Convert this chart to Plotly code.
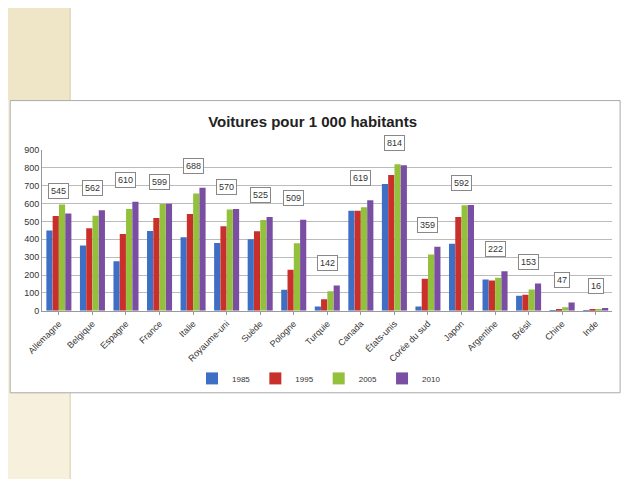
import plotly.graph_objects as go

# Données
pays = ["Allemagne", "Belgique", "Espagne", "France", "Italie", "Royaume-uni", "Suède",
        "Pologne", "Turquie", "Canada", "États-unis", "Corée du sud", "Japon",
        "Argentine", "Brésil", "Chine", "Inde"]
v1985 = [450, 365, 278, 447, 412, 380, 400, 118, 25, 560, 710, 25, 375, 175, 85, 5, 5]
v1995 = [530, 462, 430, 520, 542, 473, 445, 230, 65, 560, 760, 180, 525, 170, 90, 8, 6]
v2005 = [595, 532, 570, 597, 657, 567, 508, 378, 110, 580, 820, 315, 590, 185, 120, 20, 10]
v2010 = [545, 562, 610, 599, 688, 570, 525, 509, 142, 619, 814, 359, 592, 222, 153, 47, 16]

series = [("1985", v1985, "#3f6fc4"), ("1995", v1995, "#c9302c"),
          ("2005", v2005, "#93c13c"), ("2010", v2010, "#7a4fa3")]

# compensation de la marge de la page (8 px)
dx = 8 / 638
dy = 8 / 479

fig = go.Figure()
for nom, vals, col in series:
    fig.add_trace(go.Bar(x=pays, y=vals, name=nom, marker_color=col,
                         marker_line_width=0))

for p, v in zip(pays, v2010):
    fig.add_annotation(x=p, y=v, text=str(v), showarrow=False, yanchor="bottom",
                       yshift=14, bgcolor="white", bordercolor="#888", borderwidth=1,
                       borderpad=2, font=dict(size=9, color="#333"))

# décor de la diapo puis cadre du graphique
fig.add_shape(type="rect", xref="paper", yref="paper", x0=-dx, x1=0.11 - dx, y0=0, y1=1 + dy,
              line_width=0, fillcolor="#f6f0dc", layer="below")
fig.add_shape(type="rect", xref="paper", yref="paper", x0=-dx, x1=0.11 - dx, y0=0.79 + dy, y1=1 + dy,
              line_width=0, fillcolor="#efe6c8", layer="below")
fig.add_shape(type="line", xref="paper", yref="paper", x0=0.11 - dx, x1=0.11 - dx, y0=0, y1=1 + dy,
              line=dict(color="#d8ccaa", width=1), layer="below")
fig.add_shape(type="rect", xref="paper", yref="paper", x0=0.016 - dx, x1=0.972 - dx,
              y0=0.18 + dy, y1=0.79 + dy,
              line=dict(color="#aaa", width=1), fillcolor="white", layer="below")

fig.update_layout(
    width=638, height=479,
    margin=dict(l=0, r=0, t=0, b=0, autoexpand=False),
    paper_bgcolor="white", plot_bgcolor="rgba(0,0,0,0)",
    font=dict(family="Liberation Sans, Arial", size=9, color="#333"),
    title=dict(text="<b>Voitures pour 1 000 habitants</b>", x=0.49 - dx, xanchor="center",
               y=0.745 + dy, yanchor="middle", font=dict(size=15, color="#222")),
    barmode="group", bargap=0.25, bargroupgap=0.02,
    xaxis=dict(domain=[0.066 - dx, 0.96 - dx], tickangle=-45, showline=True, linecolor="#999",
               ticks="outside", ticklen=3, tickcolor="#999", automargin=False),
    yaxis=dict(domain=[0.351 + dy, 0.687 + dy], range=[0, 900], dtick=100, gridcolor="#bbb",
               showline=True, linecolor="#999", zeroline=False, automargin=False),
    legend=dict(orientation="h", x=0.5 - dx, xanchor="center", y=0.21 + dy, yanchor="middle",
                font=dict(size=8), itemwidth=30, bgcolor="rgba(0,0,0,0)"),
)

fig.write_html("out.html")
